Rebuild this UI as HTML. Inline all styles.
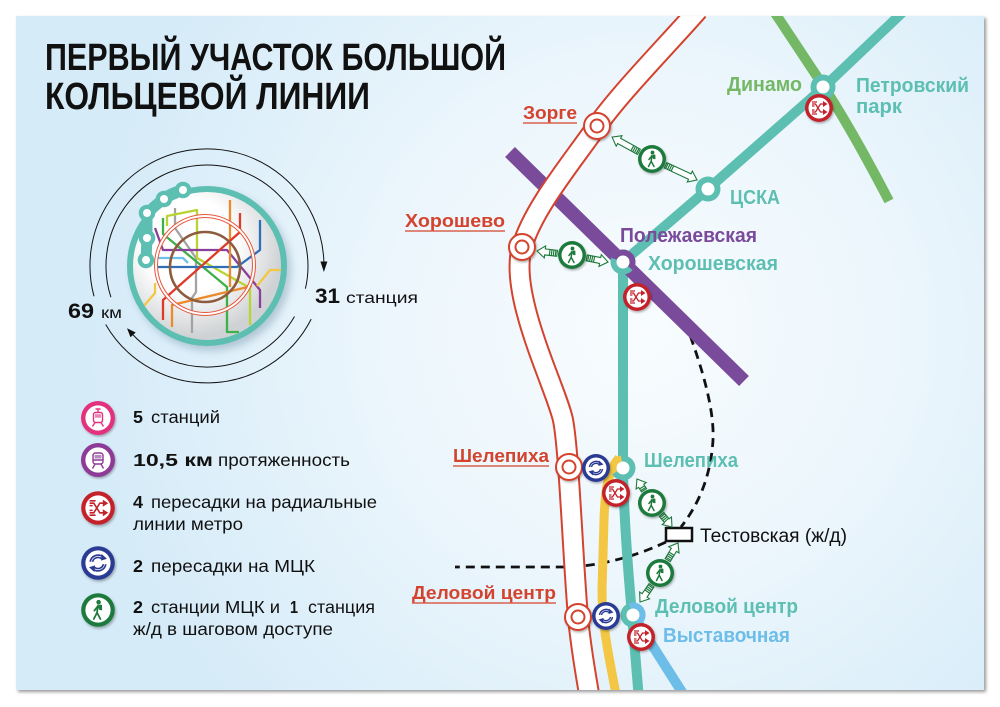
<!DOCTYPE html>
<html><head><meta charset="utf-8">
<style>
html,body{margin:0;padding:0;background:#fff;overflow:hidden;}
svg{display:block}
text{font-family:"Liberation Sans","DejaVu Sans",sans-serif;}
.b{font-weight:bold}
.ar path.o{fill:#fff;stroke:#1f7a3d;stroke-width:1.1}
.ar path.r{fill:none;stroke:#1f7a3d;stroke-width:1.2}
</style></head><body>
<svg width="1000" height="707" viewBox="0 0 1000 707" xmlns="http://www.w3.org/2000/svg">
<defs>
 <radialGradient id="bg" cx="640" cy="330" r="560" gradientUnits="userSpaceOnUse">
  <stop offset="0" stop-color="#f8fcfe"/>
  <stop offset="0.45" stop-color="#ecf6fc"/>
  <stop offset="1" stop-color="#d5ebf8"/>
 </radialGradient>
 <radialGradient id="lg" cx="190" cy="245" r="92" gradientUnits="userSpaceOnUse">
  <stop offset="0.5" stop-color="#ffffff"/>
  <stop offset="1" stop-color="#cfd2d4"/>
 </radialGradient>
 <filter id="blur2" x="-5%" y="-5%" width="110%" height="110%"><feGaussianBlur stdDeviation="1.5"/></filter>
 <filter id="blur4" x="-30%" y="-30%" width="160%" height="160%"><feGaussianBlur stdDeviation="4"/></filter>
 <filter id="sh" x="-40%" y="-40%" width="180%" height="180%"><feDropShadow dx="1" dy="1.5" stdDeviation="1" flood-opacity="0.3"/></filter>
 <clipPath id="card"><rect x="16" y="16" width="968" height="674"/></clipPath>
 <clipPath id="logo"><circle cx="207" cy="266" r="74"/></clipPath>
 <g id="xr" filter="url(#sh)">
  <circle r="14" fill="#c4212b"/>
  <circle r="10.5" fill="#fff"/>
  <path d="M-7,-4H-3.5L1.5,4H4.5M-7,4H-3.5L1.5,-4H4.5M-7,-2H-4.5M-7,2H-4.5M-7,-6H-2M-7,6H-2" stroke="#c4212b" stroke-width="1.3" fill="none"/>
  <path d="M4,-7L8.5,-4L4,-1ZM4,1L8.5,4L4,7Z" fill="#c4212b"/>
 </g>
 <g id="wk" filter="url(#sh)">
  <circle r="14" fill="#1f7a3d"/>
  <circle r="10.5" fill="#fff"/>
  <circle cx="0.5" cy="-6.5" r="1.9" fill="#1f7a3d"/>
  <path d="M0,-3.8L-0.8,2.2L-3.5,7.5M-0.8,2.2L2,7.5M-0.3,-3L-3,0.5M0,-3L2.8,-0.5" stroke="#1f7a3d" stroke-width="1.5" fill="none" stroke-linecap="round"/>
  <rect x="0.8" y="-4.5" width="2.6" height="4.5" rx="0.8" fill="#1f7a3d"/>
 </g>
 <g id="mc" filter="url(#sh)">
  <circle r="14" fill="#2c3a94"/>
  <circle r="10.5" fill="#fff"/>
  <g stroke="#2c3a94" fill="none" stroke-width="1.4">
   <path d="M-6.5,-1A6.6,6.6 0 0 1 4.5,-4.8"/>
   <path d="M-4.5,-1A4.6,4.6 0 0 1 3,-3.5"/>
   <path d="M6.5,1A6.6,6.6 0 0 1 -4.5,4.8"/>
   <path d="M4.5,1A4.6,4.6 0 0 1 -3,3.5"/>
  </g>
  <path d="M3,-7.5L7.5,-3.5L2.5,-2ZM-3,7.5L-7.5,3.5L-2.5,2Z" fill="#2c3a94"/>
 </g>
</defs>

<!-- card -->
<rect x="18" y="18" width="968" height="674" fill="#9a9a9a" filter="url(#blur2)"/>
<rect x="16" y="16" width="968" height="674" fill="url(#bg)"/>

<!-- title -->
<text x="45" y="70" class="b" font-size="38" fill="#111" textLength="461" lengthAdjust="spacingAndGlyphs">ПЕРВЫЙ УЧАСТОК БОЛЬШОЙ</text>
<text x="45" y="109" class="b" font-size="38" fill="#111" textLength="325" lengthAdjust="spacingAndGlyphs">КОЛЬЦЕВОЙ ЛИНИИ</text>

<!-- logo -->
<circle cx="211" cy="271" r="80" fill="#5a7a90" opacity="0.35" filter="url(#blur4)"/>
<circle cx="207" cy="266" r="77" fill="url(#lg)" stroke="#5dbfb2" stroke-width="6"/>
<g clip-path="url(#logo)" fill="none" stroke-width="2.3" stroke-linejoin="round">
 <path d="M175,208V228L196,258V292L192,298V333" stroke="#a3a3a3"/>
 <path d="M167,226V216L197,210V258L250,288V325" stroke="#b8d432"/>
 <path d="M163,218V234L203,267L227,287V332H239" stroke="#3db049"/>
 <path d="M155,228L163,250H227L260,290V308" stroke="#8a3f9a"/>
 <path d="M157,267H237L260,250V220" stroke="#2f6fb7"/>
 <path d="M157,258H183L188,263" stroke="#6ec0ea"/>
 <path d="M230,200V287M172,327V305L252,286" stroke="#ec8a2b"/>
 <path d="M163,320V300L240,232V213" stroke="#dd3a2a"/>
 <path d="M143,307L155,293V283M257,286L270,270H281" stroke="#f3c744"/>
 <circle cx="205" cy="267" r="35" stroke="#8d5b3e" stroke-width="2.6"/>
 <circle cx="205" cy="265" r="49" stroke="#e8553c" stroke-width="4"/>
 <circle cx="205" cy="265" r="49" stroke="#fff" stroke-width="2"/>
</g>
<path d="M183,190Q170,193 164,199Q152,207 147,215L147,238L146,260" stroke="#5dbfb2" stroke-width="11" fill="none" stroke-linecap="round"/>
<g fill="#5dbfb2">
 <circle cx="183" cy="190" r="8.3"/><circle cx="164" cy="199" r="8.3"/><circle cx="147" cy="213" r="8.3"/><circle cx="147" cy="238" r="8.3"/><circle cx="146" cy="260" r="8.3"/>
</g>
<g fill="#fff">
 <circle cx="183" cy="190" r="4"/><circle cx="164" cy="199" r="4"/><circle cx="147" cy="213" r="4"/><circle cx="147" cy="238" r="4"/><circle cx="146" cy="260" r="4"/>
</g>
<!-- arcs -->
<g fill="none" stroke="#111" stroke-width="1">
 <path d="M94,296.3A117,117 0 1 1 323.9,261.9"/>
 <path d="M110.9,297.2A101,101 0 1 1 305.4,288.7"/>
 <path d="M311.2,319.1A117,117 0 0 1 105.7,324.5"/>
 <path d="M294.5,316.5A101,101 0 0 1 133.1,334.9"/>
</g>
<path d="M320.4,261.5L327.4,261.5L323.9,272Z" fill="#111"/>
<path d="M135.7,332.5L130.5,337.3L127,328.3Z" fill="#111"/>
<text x="315" y="303" class="b" font-size="21" fill="#111" textLength="25" lengthAdjust="spacingAndGlyphs">31</text>
<text x="346" y="303" font-size="16" fill="#111" textLength="72" lengthAdjust="spacingAndGlyphs">станция</text>
<text x="68" y="318" class="b" font-size="21" fill="#111" textLength="26" lengthAdjust="spacingAndGlyphs">69</text>
<text x="101" y="318" font-size="16" fill="#111" textLength="21" lengthAdjust="spacingAndGlyphs">км</text>

<!-- legend icons -->
<g transform="translate(98,418)" filter="url(#sh)">
 <circle r="17" fill="#e3317d"/><circle r="12.6" fill="#fff"/>
 <g fill="none" stroke="#e3317d" stroke-width="1.4">
  <rect x="-4.5" y="-5.5" width="9" height="10" rx="2"/>
  <path d="M-2.5,-9H2.5M0,-9V-5.5M-3,4.5L-5.5,8.5M3,4.5L5.5,8.5"/>
 </g>
 <rect x="-3" y="-3.8" width="6" height="3.5" fill="#e3317d" opacity=".6"/>
</g>
<g transform="translate(98,460)" filter="url(#sh)">
 <circle r="17" fill="#8d3b97"/><circle r="12.6" fill="#fff"/>
 <g fill="none" stroke="#8d3b97" stroke-width="1.4">
  <rect x="-5" y="-7" width="10" height="11" rx="2.5"/>
  <path d="M-3,4L-5.5,8.5M3,4L5.5,8.5M-5,0H5"/>
 </g>
 <rect x="-3.5" y="-5" width="7" height="3.5" fill="#8d3b97" opacity=".6"/>
</g>
<use href="#xr" transform="translate(98,508) scale(1.2)"/>
<use href="#mc" transform="translate(98,563) scale(1.2)"/>
<use href="#wk" transform="translate(98,610) scale(1.2)"/>

<!-- legend text -->
<g fill="#111" font-size="17.5">
 <text x="133" y="423" class="b" textLength="10" lengthAdjust="spacingAndGlyphs">5</text>
 <text x="151" y="423" textLength="69" lengthAdjust="spacingAndGlyphs">станций</text>
 <text x="133" y="466" class="b" textLength="80" lengthAdjust="spacingAndGlyphs">10,5 км</text>
 <text x="218" y="466" textLength="132" lengthAdjust="spacingAndGlyphs">протяженность</text>
 <text x="133" y="508" class="b" textLength="10" lengthAdjust="spacingAndGlyphs">4</text>
 <text x="151" y="508" textLength="226" lengthAdjust="spacingAndGlyphs">пересадки на радиальные</text>
 <text x="133" y="530" textLength="110" lengthAdjust="spacingAndGlyphs">линии метро</text>
 <text x="133" y="572" class="b" textLength="10" lengthAdjust="spacingAndGlyphs">2</text>
 <text x="151" y="572" textLength="164" lengthAdjust="spacingAndGlyphs">пересадки на МЦК</text>
 <text x="133" y="613" class="b" textLength="10" lengthAdjust="spacingAndGlyphs">2</text>
 <text x="151" y="613" textLength="129" lengthAdjust="spacingAndGlyphs">станции МЦК и</text>
 <text x="290" y="613" class="b" textLength="8" lengthAdjust="spacingAndGlyphs">1</text>
 <text x="308" y="613" textLength="67" lengthAdjust="spacingAndGlyphs">станция</text>
 <text x="133" y="635" textLength="200" lengthAdjust="spacingAndGlyphs">ж/д в шаговом доступе</text>
</g>

<!-- map -->
<g clip-path="url(#card)">
 <g fill="none" stroke="#111" stroke-width="2.8" stroke-dasharray="9 6">
  <path d="M685,322Q715,400 713,440Q710,490 681,527"/>
  <path d="M666,542C645,552 610,565 570,567L455,567"/>
 </g>
 <path d="M905,10L824,87L708,189L623,262L623,470C624,520 628,570 632,615L639,700" fill="none" stroke="#5dbfb2" stroke-width="10" stroke-linejoin="round"/>
 <path d="M619,458C608,470 605,490 604,520L602,590C602,630 610,660 617,700" fill="none" stroke="#f3c744" stroke-width="9"/>
 <path d="M633,615L687,700" stroke="#6cbde8" stroke-width="10"/>
 <path d="M773,10L824,87Q852,130 889,201" fill="none" stroke="#74b865" stroke-width="10"/>
 <path d="M510,152L744,381" stroke="#7b4b9b" stroke-width="14"/>
 <path d="M698,10C672,40 619,94 597,126C569,166 533,209 522,247C508,295 557,390 563,420C569,450 573,560 578,617C581,650 586,675 590,700" fill="none" stroke="#d4432e" stroke-width="22"/>
 <path d="M698,10C672,40 619,94 597,126C569,166 533,209 522,247C508,295 557,390 563,420C569,450 573,560 578,617C581,650 586,675 590,700" fill="none" stroke="#fff" stroke-width="18"/>
</g>

<!-- BKL stations -->
<g fill="#fff" stroke="#d4432e" stroke-width="2" filter="url(#sh)">
 <circle cx="597" cy="126" r="13"/><circle cx="522" cy="247" r="13"/><circle cx="569" cy="467" r="13"/><circle cx="578" cy="617" r="13"/>
</g>
<g fill="#fff" stroke="#d4432e" stroke-width="2">
 <circle cx="597" cy="126" r="6.5"/><circle cx="522" cy="247" r="6.5"/><circle cx="569" cy="467" r="6.5"/><circle cx="578" cy="617" r="6.5"/>
</g>

<!-- other stations -->
<g fill="#5dbfb2">
 <circle cx="823" cy="87" r="12.5"/><circle cx="708" cy="189" r="12.5"/><circle cx="623" cy="262" r="12.5"/><circle cx="623" cy="468" r="12.5"/><circle cx="633" cy="615" r="12.5"/>
</g>
<path d="M614.07,258.75A9.5,9.5 0 1 1 630.28,268.11" fill="none" stroke="#7b4b9b" stroke-width="6"/>
<path d="M614.77,472.75A9.5,9.5 0 0 1 621.35,458.64" fill="none" stroke="#f3c744" stroke-width="6"/>
<path d="M629.75,606.07A9.5,9.5 0 0 1 637.75,623.23" fill="none" stroke="#6cbde8" stroke-width="6"/>
<g fill="#fff">
 <circle cx="823" cy="87" r="6.5"/><circle cx="708" cy="189" r="6.5"/><circle cx="623" cy="262" r="6.5"/><circle cx="623" cy="468" r="6.5"/><circle cx="633" cy="615" r="6.5"/>
</g>

<!-- Testovskaya -->
<rect x="666" y="528" width="26" height="13" fill="#fff" stroke="#111" stroke-width="2.5"/>

<!-- walking arrows -->
<g class="ar">
 <g transform="translate(638.9,151.8) rotate(208.8)"><path class="o" d="M0,-3H22.6V-6L30.6,0L22.6,6V3H0Z"/><path class="r" d="M1.5,-3V3M3.5,-3V3M5.5,-3V3M7.5,-3V3"/></g>
 <g transform="translate(665.6,165.3) rotate(25)"><path class="o" d="M0,-3H26.7V-6L34.7,0L26.7,6V3H0Z"/><path class="r" d="M1.5,-3V3M3.5,-3V3M5.5,-3V3M7.5,-3V3"/></g>
 <g transform="translate(557.1,253.3) rotate(186.5)"><path class="o" d="M0,-3H12.2V-6L20.2,0L12.2,6V3H0Z"/><path class="r" d="M1.5,-3V3M3.5,-3V3M5.5,-3V3M7.5,-3V3"/></g>
 <g transform="translate(586.7,257.9) rotate(11)"><path class="o" d="M0,-3H13.7V-6L21.7,0L13.7,6V3H0Z"/><path class="r" d="M1.5,-3V3M3.5,-3V3M5.5,-3V3M7.5,-3V3"/></g>
 <g transform="translate(644,490.3) rotate(238)"><path class="o" d="M0,-3H5.3V-6L13.3,0L5.3,6V3H0Z"/><path class="r" d="M1.5,-3V3M3.5,-3V3"/></g>
 <g transform="translate(661.6,514.5) rotate(50.2)"><path class="o" d="M0,-3H8.2V-6L16.2,0L8.2,6V3H0Z"/><path class="r" d="M1.5,-3V3M3.5,-3V3M5.5,-3V3M7.5,-3V3"/></g>
 <g transform="translate(667.7,560.1) rotate(-59)"><path class="o" d="M0,-3H12V-6L20,0L12,6V3H0Z"/><path class="r" d="M1.5,-3V3M3.5,-3V3M5.5,-3V3M7.5,-3V3"/></g>
 <g transform="translate(651.5,585.4) rotate(124.6)"><path class="o" d="M0,-3H12.2V-6L20.2,0L12.2,6V3H0Z"/><path class="r" d="M1.5,-3V3M3.5,-3V3M5.5,-3V3M7.5,-3V3"/></g>
</g>

<!-- icons -->
<use href="#xr" x="819" y="108"/>
<use href="#xr" x="637" y="297"/>
<use href="#xr" x="616" y="493"/>
<use href="#xr" x="641" y="637"/>
<use href="#mc" x="596" y="468"/>
<use href="#mc" x="606" y="616"/>
<use href="#wk" x="652" y="159"/>
<use href="#wk" x="572" y="255"/>
<use href="#wk" x="652" y="503"/>
<use href="#wk" x="660" y="573"/>

<!-- red labels -->
<g fill="#d4432e" class="b" font-size="18">
 <text x="523" y="119" class="b" textLength="54" lengthAdjust="spacingAndGlyphs">Зорге</text>
 <text x="405" y="227" class="b" textLength="100" lengthAdjust="spacingAndGlyphs">Хорошево</text>
 <text x="453" y="462" class="b" textLength="96" lengthAdjust="spacingAndGlyphs">Шелепиха</text>
 <text x="412" y="599" class="b" textLength="144" lengthAdjust="spacingAndGlyphs">Деловой центр</text>
</g>
<g stroke="#d9604d" stroke-width="1.6">
 <path d="M523,123H577M405,231H505M453,466H549M412,603H556"/>
</g>

<!-- map labels -->
<g class="b" font-size="20">
 <text x="727" y="91" fill="#74b865" class="b" textLength="75" lengthAdjust="spacingAndGlyphs">Динамо</text>
 <text x="856" y="92" fill="#5dbfb2" class="b" textLength="113" lengthAdjust="spacingAndGlyphs">Петровский</text>
 <text x="856" y="113" fill="#5dbfb2" class="b" textLength="46" lengthAdjust="spacingAndGlyphs">парк</text>
 <text x="730" y="204" fill="#5dbfb2" class="b" textLength="50" lengthAdjust="spacingAndGlyphs">ЦСКА</text>
 <text x="620" y="242" fill="#7b4b9b" class="b" textLength="137" lengthAdjust="spacingAndGlyphs">Полежаевская</text>
 <text x="648" y="270" fill="#5dbfb2" class="b" textLength="130" lengthAdjust="spacingAndGlyphs">Хорошевская</text>
 <text x="644" y="467" fill="#5dbfb2" class="b" textLength="94" lengthAdjust="spacingAndGlyphs">Шелепиха</text>
 <text x="655" y="613" fill="#5dbfb2" class="b" textLength="143" lengthAdjust="spacingAndGlyphs">Деловой центр</text>
 <text x="663" y="642" fill="#6cbde8" class="b" textLength="127" lengthAdjust="spacingAndGlyphs">Выставочная</text>
</g>
<text x="700" y="542" font-size="19" fill="#111" textLength="147" lengthAdjust="spacingAndGlyphs">Тестовская (ж/д)</text>
</svg>
</body></html>
